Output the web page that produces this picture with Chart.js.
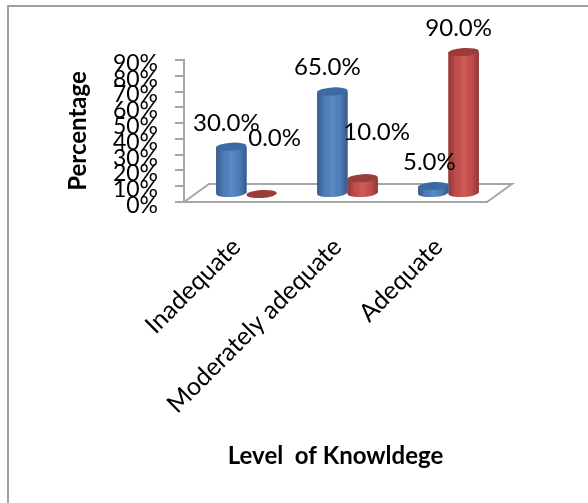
<!DOCTYPE html>
<html>
<head>
<meta charset="utf-8">
<title>Level of Knowldege</title>
<script src="https://cdn.jsdelivr.net/npm/chart.js@4"></script>
<style>
    html, body { margin: 0; padding: 0; background: #fff; overflow: hidden; }
    #frame { position: absolute; left: 7px; top: 5px; width: 800px; height: 800px; border: 2px solid #a0a0a0; }
    #chart { position: absolute; left: 0; top: 0; }
</style>
</head>
<body>
<div id="frame"></div>
<canvas id="chart" width="588" height="503"></canvas>
<script>
    var categories = ["Inadequate", "Moderately adequate", "Adequate"];
    var blueValues = [30, 65, 5];
    var redValues = [0, 10, 90];
    var yTicks = [0, 10, 20, 30, 40, 50, 60, 70, 80, 90];

    var fontName = "Lato, 'Open Sans', sans-serif";
    var gray = "#a6a6a6";

    // how far the bars stand behind the axis plane, and the depth of the floor
    var shiftX = 12, shiftY = -8;
    var floorX = 25, floorY = -18;
    var ry = 4;

    // where each value label sits relative to the top of its bar
    var labelOffsets = [
        [[-5, -23], [-5, -24], [-4, -24]],
        [[13, -56], [14, -46], [-5, -24]]
    ];
    var topColors = ["#3c6ba3", "#9a3d3a"];

    function barPath(ctx, bar) {
        var half = bar.width / 2;
        ctx.beginPath();
        ctx.moveTo(bar.x - half, bar.y);
        ctx.lineTo(bar.x - half, bar.base);
        ctx.ellipse(bar.x, bar.base, half, ry, -0.06, Math.PI, 0, true);
        ctx.lineTo(bar.x + half, bar.y);
        ctx.closePath();
    }

    // Floor and axis plane, under the bars
    var floorPlugin = {
        id: "floor",
        beforeDatasetsDraw: function (chart) {
            var a = chart.chartArea, ctx = chart.ctx;
            ctx.save();
            ctx.strokeStyle = gray;
            ctx.lineWidth = 2;
            ctx.beginPath();
            ctx.moveTo(a.left, a.bottom);
            ctx.lineTo(a.left + floorX, a.bottom + floorY);
            ctx.lineTo(a.right + floorX, a.bottom + floorY);
            ctx.lineTo(a.right, a.bottom);
            ctx.stroke();
            ctx.restore();
        }
    };

    // Shifts the bars back, then rounds them into cylinders
    var cylinderPlugin = {
        id: "cylinder",
        beforeDatasetDraw: function (chart) {
            chart.ctx.save();
            chart.ctx.translate(shiftX, shiftY);
        },
        afterDatasetDraw: function (chart, args) {
            var ctx = chart.ctx;
            var base = chart.data.datasets[args.index].backgroundColor;
            args.meta.data.forEach(function (bar) {
                var half = bar.width / 2;
                if (bar.base - bar.y > 0.5) {
                    var g = ctx.createLinearGradient(bar.x - half, 0, bar.x + half, 0);
                    g.addColorStop(0, "rgba(0,0,0,0.3)");
                    g.addColorStop(0.25, "rgba(0,0,0,0.03)");
                    g.addColorStop(0.5, "rgba(255,255,255,0.07)");
                    g.addColorStop(0.75, "rgba(0,0,0,0.03)");
                    g.addColorStop(1, "rgba(0,0,0,0.3)");
                    barPath(ctx, bar);
                    ctx.fillStyle = base;
                    ctx.fill();
                    ctx.fillStyle = g;
                    ctx.fill();
                }
                ctx.beginPath();
                ctx.ellipse(bar.x, bar.y, half, ry, -0.06, 0, Math.PI * 2);
                ctx.fillStyle = topColors[args.index];
                ctx.fill();
            });
            ctx.restore();
        }
    };

    // Value labels
    var valueLabelPlugin = {
        id: "valueLabels",
        afterDatasetsDraw: function (chart) {
            var ctx = chart.ctx;
            ctx.save();
            ctx.font = "24px " + fontName;
            ctx.fillStyle = "#000";
            ctx.textAlign = "center";
            ctx.textBaseline = "middle";
            chart.data.datasets.forEach(function (ds, d) {
                chart.getDatasetMeta(d).data.forEach(function (bar, i) {
                    var off = labelOffsets[d][i];
                    ctx.fillText(ds.data[i].toFixed(1) + "%", bar.x + shiftX + off[0], bar.y + shiftY + off[1]);
                });
            });
            ctx.restore();
        }
    };

    var ctx = document.getElementById("chart").getContext("2d");
    var myChart = new Chart(ctx, {
        type: "bar",
        data: {
            labels: categories,
            datasets: [{
                label: "Series 1",
                data: blueValues,
                backgroundColor: "#4f81c0",
                clip: false
            }, {
                label: "Series 2",
                data: redValues,
                backgroundColor: "#c9504e",
                clip: false
            }]
        },
        options: {
            responsive: false,
            animation: false,
            categoryPercentage: 0.6,
            barPercentage: 1,
            layout: { padding: { left: 60, right: 101, top: 60, bottom: 32 } },
            plugins: { legend: { display: false }, tooltip: { enabled: false } },
            scales: {
                x: {
                    afterFit: function (scale) { scale.height = 269; },
                    grid: { display: false },
                    border: { color: gray, width: 2 },
                    ticks: {
                        autoSkip: false,
                        maxRotation: 45,
                        minRotation: 45,
                        padding: 22,
                        labelOffset: 2,
                        color: "#000",
                        font: { family: fontName, size: 25 }
                    },
                    title: {
                        display: true,
                        text: "Level  of Knowldege",
                        color: "#000",
                        padding: 0,
                        font: { family: fontName, size: 24, weight: "bold", lineHeight: 1.2 }
                    }
                },
                y: {
                    min: 0,
                    max: 90,
                    afterFit: function (scale) { scale.width = 124; },
                    afterBuildTicks: function (scale) {
                        scale.ticks = yTicks.map(function (v) { return { value: v }; });
                    },
                    grid: { drawOnChartArea: false, color: gray, lineWidth: 2, tickLength: 9 },
                    border: { color: gray, width: 2 },
                    ticks: {
                        autoSkip: false,
                        padding: 17,
                        color: "#000",
                        font: { family: fontName, size: 23, lineHeight: 0.3 },
                        // empty first line nudges the label just below its tick
                        callback: function (v) { return ["", v + "%"]; }
                    },
                    title: {
                        display: true,
                        text: "Percentage",
                        color: "#000",
                        padding: { top: 4, bottom: 0 },
                        font: { family: fontName, size: 24, weight: "bold", lineHeight: 1.2 }
                    }
                }
            }
        },
        plugins: [floorPlugin, cylinderPlugin, valueLabelPlugin]
    });
</script>
</body>
</html>
